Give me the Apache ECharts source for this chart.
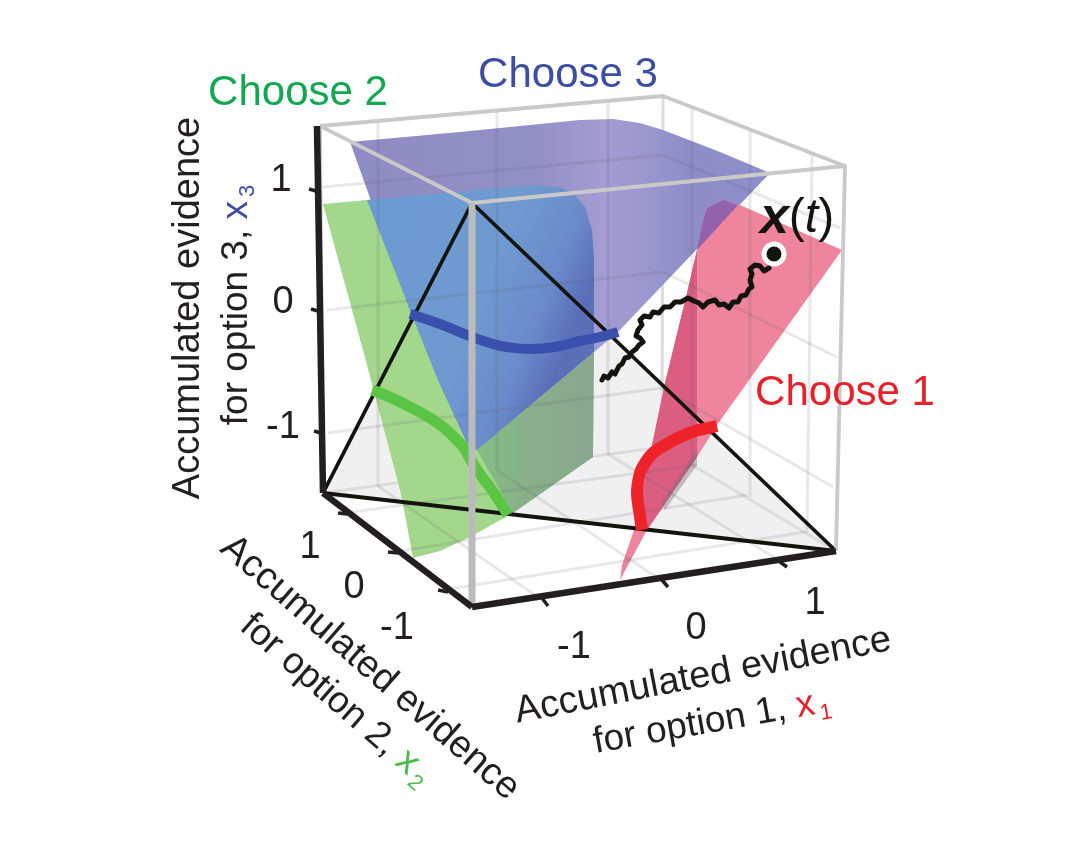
<!DOCTYPE html>
<html><head><meta charset="utf-8">
<style>html,body{margin:0;padding:0;background:#fff}#c{width:1067px;height:859px}</style>
<script src="https://cdn.jsdelivr.net/npm/echarts@6/dist/echarts.min.js"></script>
</head><body><div id="c"></div>
<script>
// Outlines, in picture pixels [x, y]
const floorShade = [[323,493],[472,203],[836,551]];
const greenOutline = [[323,204],[367,200],[533,185],[558,187],[573,193],[585,207],[592,230],[594,260],[593,457],[513,513],[470,537],[440,551],[413,558],[405,515],[400,490],[363,350]];
const greenShade = [[477,450],[594,352],[593,457],[513,513]];
const blueOutline = [[350,142],[460,132],[580,120],[613,119],[640,123],[663,130],[720,152],[770,173],[730,215],[697,249],[618,332],[594,352],[477,450],[467,443],[438,380],[410,310]];
const blueOverGreen = [[367,200],[533,185],[558,187],[573,193],[585,207],[592,230],[594,260],[594,352],[477,450],[467,443],[438,380],[410,310]];
const pinkOutline = [[723,200],[740,205],[842,250],[717,425],[697,457],[647,530],[620,580],[622,565],[635,527],[665,383],[687,293],[697,250],[702,225],[707,208]];
const pinkDark = [[697,250],[697,457],[647,530],[635,527],[665,383],[687,293]];
const purpleTip = [[707,208],[723,200],[738,205],[697,250],[702,225]];
const foldShade = [[697,449],[697,465],[665,510],[661,503]];
const boundary3 = [[410,314],[440,324],[467,335],[490,343],[507,347],[530,349],[555,347],[580,341],[600,337],[618,332]];
const boundary2 = [[372,390],[392,398],[410,407],[430,418],[443,427],[455,438],[463,447],[477,470],[492,490],[508,515]];
const boundary1 = [[717,426],[708,428],[695,431],[680,437],[665,445],[653,453],[645,463],[640,473],[637,493],[639,510],[642,530]];
const walk = [[602,380],[604,376],[608,378],[612,372],[615,374],[619,366],[622,364],[625,358],[629,357],[632,352],[636,349],[639,345],[643,342],[640,338],[636,336],[638,330],[642,325],[640,320],[644,316],[650,317],[653,312],[659,313],[664,307],[670,307],[675,302],[681,302],[688,298],[694,301],[699,303],[703,307],[708,302],[715,300],[719,305],[724,304],[729,308],[733,302],[738,302],[741,296],[746,295],[749,289],[752,287],[750,280],[752,274],[750,269],[755,265],[760,266],[764,271],[769,268]];
const axisZ = [[317,126],[323,493]];
const axisY = [[323,493],[472,607]];
const axisX = [[472,607],[836,551]];
const simplexEdges = [[[472,203],[323,493]],[[472,203],[836,551]],[[323,493],[836,551]]];
const axisTicks = [[[309,189],[316,191]],[[311,309],[318,311]],[[314,431],[321,433]],[[338,513],[347,514]],[[388,552],[398,553]],[[438,590],[448,592]],[[542,598],[548,606]],[[662,580],[668,587]],[[780,562],[787,567]]];
const gridLines = [[[323,187],[663,155]],[[327,310],[663,272]],[[328,433],[662,388]],[[663,155],[840,228]],[[663,272],[837,357]],[[662,388],[833,487]],
 [[378,122],[378,486]],[[497,111],[497,470]],[[608,101],[608,454]],[[692,108],[692,465]],[[750,130],[750,497]],[[812,153],[807,533]],
 [[345,513],[697,465]],[[395,552],[747,495]],[[443,590],[805,532]],[[378,486],[545,602]],[[497,470],[665,583]],[[608,454],[783,563]]];
const boxBack = [[[663,96],[662,447]],[[323,493],[662,447]],[[662,447],[836,551]]];
const boxTop = [[[320,126],[663,96],[845,166],[472,203],[320,126]],[[845,166],[836,551]],[[320,126],[323,493]]];
const boxFront = [[[472,203],[472,607]]];
const endPoint = [[774,254]];
const textItems = [
 {p:[568,75], t:'{a|Choose 3}', c:'#3c4da3', s:42},
 {p:[298,93], t:'{a|Choose 2}', c:'#12a750', s:42},
 {p:[845,393], t:'{a|Choose 1}', c:'#e8202a', s:42},
 {p:[281,181], t:'{a|1}', c:'#231f20', s:38},
 {p:[283,303], t:'{a|0}', c:'#231f20', s:38},
 {p:[283,428], t:'{a|-1}', c:'#231f20', s:38},
 {p:[310,548], t:'{a|1}', c:'#231f20', s:38},
 {p:[354,588], t:'{a|0}', c:'#231f20', s:38},
 {p:[397,629], t:'{a|-1}', c:'#231f20', s:38},
 {p:[574,648], t:'{a|-1}', c:'#231f20', s:38},
 {p:[696,629], t:'{a|0}', c:'#231f20', s:38},
 {p:[815,604], t:'{a|1}', c:'#231f20', s:38},
 {p:[189,308], t:'{a|Accumulated evidence}', c:'#231f20', s:38, r:90},
 {p:[237,305], t:'{a|for option 3, }{b|x}{d|3}', c:'#231f20', s:37, r:90, k:'#3c4da3'},
 {p:[370,668], t:'{a|Accumulated evidence}', c:'#231f20', s:38, r:-41},
 {p:[336,700], t:'{a|for option 2, }{b|x}{d|2}', c:'#231f20', s:37, r:-41, k:'#4cb848'},
 {p:[703,676], t:'{a|Accumulated evidence}', c:'#231f20', s:38, r:11},
 {p:[712,722], t:'{a|for option 1, }{b|x}{d|1}', c:'#231f20', s:37, r:10, k:'#e8202a'}
];
const lg = (a,b,c,d,stops)=>new echarts.graphic.LinearGradient(a,b,c,d,stops.map(s=>({offset:s[0],color:s[1]})));
const poly = (pts,fill,z)=>({type:'custom',coordinateSystem:'cartesian2d',silent:true,z:z,clip:false,
  data:[pts[0]],
  renderItem:(p,api)=>({type:'polygon',shape:{points:pts.map(q=>api.coord(q))},style:{fill:fill}})});
const line = (pts,color,width,z,smooth,cap)=>({type:'line',data:pts,symbol:'none',silent:true,z:z,clip:false,smooth:smooth||false,
  lineStyle:{color:color,width:width,cap:cap||'butt',join:'round'}});
const txt = it=>({type:'scatter',data:[it.p],symbolSize:0,silent:true,z:30,clip:false,itemStyle:{opacity:1},
  label:{show:true,opacity:1,position:'inside',rotate:it.r||0,formatter:it.t,align:'center',verticalAlign:'middle',
    rich:{a:{fontFamily:'Liberation Sans',fontSize:it.s,color:it.c},
          b:{fontFamily:'Liberation Sans',fontSize:it.s,color:it.k||it.c},
          d:{fontFamily:'Liberation Sans',fontSize:22,color:it.k||it.c,verticalAlign:'bottom',padding:[22,0,0,4]}}}});
const series = [
  poly(floorShade,'rgba(0,0,0,0.06)',1),
  ...boxBack.map(l=>line(l,'#dcdcdc',3,2)),
  poly(greenOutline,'#a3d88c',3),
  poly(blueOutline,lg(0,0,1,0,[[0,'#8f8cc4'],[.45,'#9390c8'],[.6,'#a49cd2'],[.72,'#9996ce'],[.8,'#8e8dc8'],[1,'#8f8fcb']]),4),
  poly(blueOverGreen,lg(0,0,1,.35,[[0,'#6b9bd3'],[.6,'#6f9ad0'],[.85,'#6a8aca'],[1,'#5b6fb9']]),5),
  poly(greenShade,lg(0,0,1,0,[[0,'#82bd84'],[.5,'#8aae8a'],[1,'#88a78f']]),5),
  poly(pinkOutline,'#ee859c',6),
  poly(pinkDark,'#db5d80',7),
  poly(purpleTip,'#9462ad',7),
  poly(foldShade,'rgba(120,110,120,0.4)',7),
  ...gridLines.map(l=>line(l,'rgba(90,90,105,0.14)',3,8)),
  ...simplexEdges.map(l=>line(l,'#14140f',3.8,10)),
  ...boxTop.map(l=>line(l,'#c9c9c9',3.8,11)),
  line(boundary3,'#3a50ad',10,12,true),
  line(boundary2,'#5cc444',11,12,true),
  line(boundary1,'#ee2229',12,12,0.3),
  ...boxFront.map(l=>line(l,'#bbbbbb',7,13)),
  line(walk,'#14140f',5,14,false,'round'),
  line(axisZ,'#231f20',6.5,15),line(axisY,'#231f20',6.5,15),line(axisX,'#231f20',6.5,15),
  ...axisTicks.map(l=>line(l,'#231f20',3.5,15)),
  {type:'scatter',data:endPoint,symbol:'circle',symbolSize:20,silent:true,z:20,itemStyle:{opacity:1,color:'#14140f',borderColor:'#fff',borderWidth:5}},
  {type:'scatter',data:[[797,219]],symbolSize:0,silent:true,z:30,clip:false,itemStyle:{opacity:1},
   label:{show:true,opacity:1,position:'inside',align:'center',verticalAlign:'middle',formatter:'{x|x}{p|(}{t|t}{p|)}',
     rich:{x:{fontFamily:'Liberation Sans',fontStyle:'italic',fontWeight:'bold',fontSize:52,color:'#14140f'},
           p:{fontFamily:'Liberation Sans',fontSize:48,color:'#14140f'},
           t:{fontFamily:'Liberation Sans',fontStyle:'italic',fontSize:48,color:'#14140f'}}}},
  ...textItems.map(txt)
];
const chart = echarts.init(document.getElementById('c'),null,{renderer:'canvas'});
chart.setOption({animation:false,backgroundColor:'#fff',
  grid:{left:0,right:0,top:0,bottom:0},
  xAxis:{type:'value',min:0,max:1067,show:false},
  yAxis:{type:'value',min:0,max:859,inverse:true,show:false},
  series:series});
</script></body></html>
